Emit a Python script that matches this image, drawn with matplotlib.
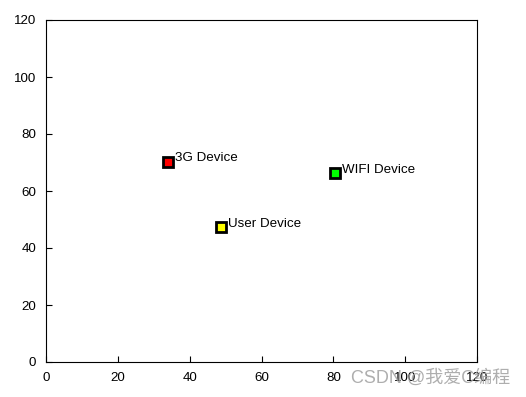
import matplotlib
matplotlib.use("Agg")
import matplotlib.pyplot as plt

plt.rcParams["font.family"] = ["Liberation Sans", "DejaVu Sans"]

# device positions
names = ["3G Device", "WIFI Device", "User Device"]
xs = [34, 80.5, 48.7]
ys = [70.3, 66.2, 47.3]
colors = ["#ff0000", "#00ff00", "#ffff00"]

ticks = [0, 20, 40, 60, 80, 100, 120]

fig = plt.figure(figsize=(5.26, 3.97), dpi=100)
ax = fig.add_axes([46 / 526, 1 - 362 / 397, (477 - 46) / 526, (362 - 20) / 397])

for name, x, y, c in zip(names, xs, ys, colors):
    ax.plot(x, y, "s", markersize=7.5, markerfacecolor=c,
            markeredgecolor="black", markeredgewidth=2)
    ax.text(x + 2, y + 1.2, name, fontsize=9.6, ha="left", va="center")

ax.set_xlim(0, 120)
ax.set_ylim(0, 120)
ax.set_xticks(ticks)
ax.set_yticks(ticks)
ax.tick_params(axis="x", direction="in", length=4, labelsize=9.6, pad=7,
               top=False)
ax.tick_params(axis="y", direction="in", length=4, labelsize=9.6, pad=7,
               right=False)
for s in ax.spines.values():
    s.set_linewidth(0.8)

# watermark
fig.text(0.97, 0.048, "CSDN @我爱C编程", fontsize=13, color="#a0a0a0",
         ha="right", va="center", alpha=0.85,
         family=["Liberation Sans", "Noto Sans CJK SC"])

fig.savefig("out.png", dpi=100)
